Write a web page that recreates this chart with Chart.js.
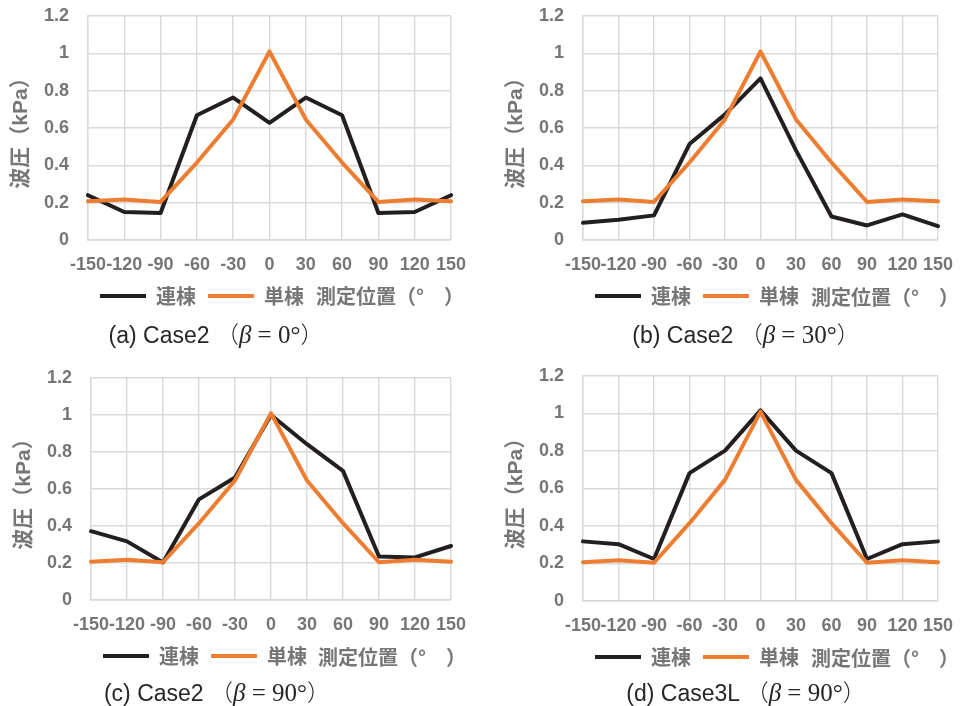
<!DOCTYPE html>
<html>
<head>
<meta charset="utf-8">
<script src="https://cdn.jsdelivr.net/npm/chart.js@4.4.1/dist/chart.umd.min.js"></script>
<style>
  html, body { margin: 0; padding: 0; background: #ffffff; }
  #wrap { position: relative; width: 967px; height: 706px; background: #ffffff; overflow: hidden; }
  canvas { position: absolute; }
  .xt { position: absolute; font-family: "Noto Sans CJK JP", sans-serif; font-weight: bold; font-size: 20px; color: #767676; white-space: pre; line-height: 24px; transform: translateY(-50%); }
  .cap { position: absolute; white-space: pre; line-height: 30px; transform: translate(-50%, -50%); color: #262626; font-size: 23px; }
  .sans { font-family: "Liberation Sans", Arial, sans-serif; }
  .cjk { font-family: "Noto Sans CJK JP", sans-serif; font-weight: 300; }
  .ser { font-family: "Liberation Serif", "Times New Roman", serif; font-size: 25px; }
</style>
</head>
<body>
<div id="wrap">
  <canvas id="c0" width="480" height="316" style="left:0px;top:0px"></canvas>
  <canvas id="c1" width="480" height="316" style="left:487px;top:0px"></canvas>
  <canvas id="c2" width="480" height="316" style="left:0px;top:360px"></canvas>
  <canvas id="c3" width="480" height="317" style="left:487px;top:360px"></canvas>

  <div class="xt" style="left:316px;top:296px">測定位置（°　）</div>
  <div class="xt" style="left:811px;top:297px">測定位置（°　）</div>
  <div class="xt" style="left:318px;top:657px">測定位置（°　）</div>
  <div class="xt" style="left:811px;top:658px">測定位置（°　）</div>

  <div class="cap" style="left:216px;top:334px"><span class="sans">(a) Case2 </span><span class="cjk">（</span><i class="ser">β</i><span class="ser"> = 0°</span><span class="cjk">）</span></div>
  <div class="cap" style="left:746px;top:334px"><span class="sans">(b) Case2 </span><span class="cjk">（</span><i class="ser">β</i><span class="ser"> = 30°</span><span class="cjk">）</span></div>
  <div class="cap" style="left:217px;top:692px"><span class="sans">(c) Case2 </span><span class="cjk">（</span><i class="ser">β</i><span class="ser"> = 90°</span><span class="cjk">）</span></div>
  <div class="cap" style="left:746px;top:692px"><span class="sans">(d) Case3L </span><span class="cjk">（</span><i class="ser">β</i><span class="ser"> = 90°</span><span class="cjk">）</span></div>
</div>
<script>
// ---- data ----
const categories = ['-150', '-120', '-90', '-60', '-30', '0', '30', '60', '90', '120', '150'];
const seriesNames = ['連棟', '単棟'];
const yTickMin = 0;
const yTickMax = 1.2;
const yTickStep = 0.2;

// 単棟 (single building) – same in all panels
const single = [0.207, 0.217, 0.204, 0.415, 0.646, 1.01, 0.646, 0.415, 0.204, 0.217, 0.207];

// 連棟 (connected buildings)
const multiA = [0.24, 0.15, 0.145, 0.668, 0.763, 0.628, 0.763, 0.668, 0.145, 0.15, 0.24];
const multiB = [0.092, 0.108, 0.132, 0.514, 0.673, 0.866, 0.48, 0.126, 0.078, 0.137, 0.074];
const multiC = [0.372, 0.317, 0.203, 0.544, 0.662, 1.0, 0.842, 0.698, 0.235, 0.230, 0.292];
const multiD = [0.318, 0.303, 0.224, 0.682, 0.802, 1.017, 0.802, 0.682, 0.224, 0.303, 0.318];

const yTitle = '波圧（kPa）';

// ---- styling / layout ----
const BLACK = '#231f20';
const ORANGE = '#ed7d31';
const GRID = '#d9d9d9';
const TEXT = '#767676';

const panels = [
  { id: 'c0', multi: multiA, yW: 88, padTop: 16, padRight: 28, titlePad: 9 },
  { id: 'c1', multi: multiB, yW: 96, padTop: 16, padRight: 21, titlePad: 17 },
  { id: 'c2', multi: multiC, yW: 91, padTop: 18, padRight: 28, titlePad: 12 },
  { id: 'c3', multi: multiD, yW: 96, padTop: 16, padRight: 19, titlePad: 17 }
];

panels.forEach(p => {
  new Chart(document.getElementById(p.id), {
    type: 'line',
    data: {
      labels: categories,
      datasets: [
        {
          label: seriesNames[0], data: p.multi,
          borderColor: BLACK, backgroundColor: BLACK, borderWidth: 4,
          pointRadius: 0, tension: 0, borderJoinStyle: 'round', borderCapStyle: 'round',
          order: 1
        },
        {
          label: seriesNames[1], data: single,
          borderColor: ORANGE, backgroundColor: ORANGE, borderWidth: 4,
          pointRadius: 0, tension: 0, borderJoinStyle: 'round', borderCapStyle: 'round',
          order: 0
        }
      ]
    },
    options: {
      responsive: false,
      animation: false,
      devicePixelRatio: 1,
      layout: { padding: { top: p.padTop, right: p.padRight, bottom: 0, left: 0 } },
      plugins: {
        tooltip: { enabled: false },
        legend: {
          position: 'bottom',
          align: 'start',
          fullSize: false,
          labels: {
            usePointStyle: true,
            pointStyle: 'line',
            pointStyleWidth: 46,
            padding: 12,
            color: TEXT,
            font: { family: '"Noto Sans CJK JP", sans-serif', size: 20, weight: 'bold' },
            sort: (a, b) => a.datasetIndex - b.datasetIndex
          }
        }
      },
      scales: {
        x: {
          type: 'category',
          offset: false,
          grid: { color: GRID, lineWidth: 1.4, drawTicks: false },
          border: { color: GRID, width: 1.4 },
          ticks: {
            autoSkip: false, maxRotation: 0, minRotation: 0, padding: 14,
            color: TEXT,
            font: { family: '"Liberation Sans", Arial, sans-serif', size: 18, weight: 'bold' }
          },
          afterFit: s => { s.height = 34; }
        },
        y: {
          min: yTickMin, max: yTickMax,
          grid: { color: GRID, lineWidth: 1.4, drawTicks: false },
          border: { color: GRID, width: 1.4 },
          ticks: {
            stepSize: yTickStep, padding: 19,
            color: TEXT,
            font: { family: '"Liberation Sans", Arial, sans-serif', size: 18, weight: 'bold' },
            callback: v => String(Math.round(v * 10) / 10)
          },
          title: {
            display: true, text: yTitle, color: TEXT,
            padding: { top: p.titlePad, bottom: 0 },
            font: { family: '"Liberation Sans", "Noto Sans CJK JP", sans-serif', size: 21, weight: 'bold' }
          },
          afterFit: s => { s.width = p.yW; s.paddingTop = 0; s.paddingBottom = 0; }
        }
      }
    }
  });
});
</script>
</body>
</html>
